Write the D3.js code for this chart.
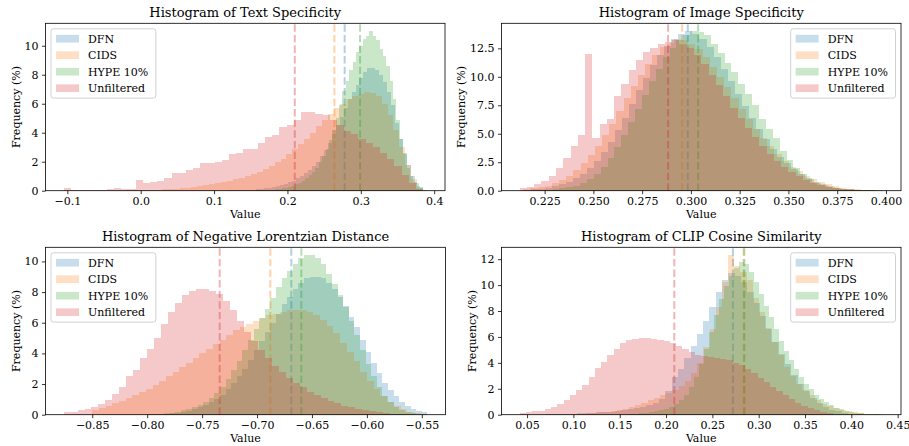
<!DOCTYPE html>
<html lang="en">
<head>
<meta charset="UTF-8">
<title>Histograms</title>
<style>
    body { margin: 0; background: #fff; }
    svg { display: block; font-family: "DejaVu Serif", serif; }
</style>
</head>
<body>
<svg width="909" height="446"></svg>
<script src="https://cdnjs.cloudflare.com/ajax/libs/d3/7.8.5/d3.min.js"></script>
<script>
var seriesNames = ["DFN", "CIDS", "HYPE 10%", "Unfiltered"];
var seriesColors = ["#1f77b4", "#ff7f0e", "#2ca02c", "#d62728"];

// text specificity (frequency % per bin, 50 bins each)
var textDFN = [0.02,0.02,0.03,0.04,0.05,0.06,0.08,0.1,0.13,0.16,
    0.2,0.25,0.3,0.38,0.47,0.58,0.7,0.85,1.0,1.2,
    1.45,1.7,2.0,2.4,2.8,3.3,3.9,4.5,5.1,5.7,
    6.3,6.8,7.3,7.8,8.2,8.5,8.5,8.3,8.0,7.5,
    6.8,5.9,4.7,3.6,2.6,1.8,1.0,0.5,0.25,0.08];
var textCIDS = [0.02,0.02,0.04,0.05,0.06,0.08,0.1,0.12,0.15,0.18,
    0.22,0.27,0.32,0.38,0.45,0.52,0.6,0.7,0.8,0.9,
    1.02,1.15,1.3,1.5,1.7,1.95,2.2,2.5,2.85,3.2,
    3.6,4.0,4.45,4.9,5.3,5.7,6.0,6.3,6.5,6.7,
    6.8,6.75,6.5,6.0,5.2,4.2,3.0,1.8,0.8,0.2];
var textHYPE = [0.02,0.03,0.05,0.06,0.08,0.1,0.13,0.17,0.22,0.28,
    0.35,0.45,0.55,0.7,0.85,1.05,1.3,1.6,2.0,2.4,
    2.9,3.5,4.2,5.0,5.9,6.9,7.6,8.3,8.9,9.6,
    10.0,10.5,10.7,11.0,10.7,10.4,9.8,9.3,8.6,7.6,
    6.3,4.9,3.6,2.5,1.6,1.0,0.6,0.35,0.18,0.06];
var textUnf = [0.18,0.05,0.06,0.07,0.05,0.08,0.1,0.18,0.15,0.12,
    0.75,0.5,0.6,0.65,0.85,1.2,1.2,1.4,1.55,1.9,
    1.9,2.0,2.1,2.5,2.6,2.9,2.85,3.3,3.7,3.85,
    4.4,4.5,4.9,5.4,5.45,5.3,5.25,4.9,4.5,4.1,
    3.9,3.55,3.3,3.0,2.6,2.2,1.7,1.1,0.5,0.15];
var textRanges = [[0.12, 0.39], [-0.02, 0.385], [0.16, 0.39], [-0.105, 0.385]];
var textMeans = [0.278, 0.264, 0.299, 0.210];
var textXTicks = [-0.1, 0, 0.1, 0.2, 0.3, 0.4];
var textYTicks = [0, 2, 4, 6, 8, 10];

// image specificity
var imgDFN = [0.12,0.18,0.26,0.38,0.55,0.8,1.1,1.5,2.0,2.6,
    3.4,4.3,5.3,6.4,7.6,8.8,9.9,11.0,11.9,12.7,
    13.3,13.8,14.0,13.8,13.3,12.6,11.7,10.7,9.6,8.5,
    7.4,6.4,5.4,4.5,3.7,3.0,2.4,1.9,1.45,1.1,
    0.8,0.56,0.38,0.25,0.16,0.1,0.06,0.03,0.02,0.01];
var imgCIDS = [0.15,0.2,0.3,0.45,0.65,0.9,1.3,1.8,2.4,3.1,
    3.9,4.9,5.9,7.0,8.1,9.2,10.2,11.1,11.9,12.6,
    13.0,13.3,13.2,12.9,12.4,11.7,10.9,10.0,9.1,8.1,
    7.2,6.3,5.4,4.6,3.9,3.2,2.6,2.1,1.7,1.3,
    1.0,0.75,0.55,0.4,0.28,0.19,0.12,0.07,0.04,0.02];
var imgHYPE = [0.05,0.08,0.12,0.2,0.3,0.45,0.7,1.0,1.5,2.1,
    2.9,3.8,4.9,6.0,7.2,8.4,9.6,10.7,11.7,12.5,
    13.2,13.7,14.0,13.95,13.7,12.9,12.1,11.2,10.4,9.4,
    8.5,7.5,6.3,5.4,4.6,3.5,2.7,2.0,1.45,1.0,
    0.7,0.5,0.35,0.25,0.17,0.12,0.08,0.05,0.03,0.02];
var imgUnf = [0.2,0.35,0.55,0.85,1.3,2.0,2.9,3.9,4.9,12.0,
    4.6,5.9,6.3,8.3,9.4,10.6,11.5,12.2,12.5,12.9,
    13.1,13.2,12.9,12.5,11.9,11.1,10.2,9.3,8.3,7.3,
    6.4,5.5,4.7,3.9,3.2,2.6,2.1,1.6,1.25,0.95,
    0.7,0.5,0.35,0.25,0.17,0.11,0.07,0.04,0.02,0.01];
var imgRanges = [[0.218, 0.398], [0.214, 0.398], [0.222, 0.3984], [0.2122, 0.3984]];
var imgMeans = [0.2984, 0.2955, 0.3037, 0.2883];
var imgXTicks = [0.225, 0.25, 0.275, 0.3, 0.325, 0.35, 0.375, 0.4];
var imgYTicks = [0, 2.5, 5, 7.5, 10, 12.5];

// negative lorentzian distance
var lorDFN = [0.03,0.04,0.05,0.07,0.1,0.14,0.19,0.26,0.35,0.47,
    0.62,0.8,1.0,1.3,1.65,2.05,2.5,3.0,3.6,4.2,
    4.8,5.4,6.0,6.6,7.2,7.7,8.2,8.6,8.9,9.0,
    9.0,8.9,8.6,8.2,7.7,7.1,6.4,5.7,4.9,4.1,
    3.4,2.7,2.1,1.6,1.2,0.85,0.6,0.4,0.27,0.15];
var lorCIDS = [0.3,0.45,0.6,0.75,0.9,1.1,1.3,1.5,1.7,1.95,
    2.2,2.5,2.8,3.1,3.4,3.7,4.0,4.3,4.6,4.9,
    5.2,5.5,5.7,5.9,6.1,6.3,6.5,6.6,6.7,6.8,
    6.8,6.8,6.7,6.5,6.2,5.8,5.3,4.7,4.1,3.5,
    2.8,2.2,1.7,1.2,0.85,0.55,0.35,0.2,0.1,0.04];
var lorHYPE = [0.03,0.05,0.07,0.1,0.14,0.2,0.28,0.38,0.5,0.65,
    0.85,1.1,1.4,1.8,2.3,2.9,3.5,4.2,4.9,5.6,
    6.3,6.9,7.6,8.3,8.9,9.4,9.8,10.2,10.4,10.4,
    10.2,9.8,9.2,8.5,7.8,7.0,6.1,5.2,4.2,3.3,
    2.5,1.8,1.2,0.8,0.5,0.32,0.2,0.12,0.07,0.04];
var lorUnf = [0.15,0.2,0.3,0.35,0.5,0.7,0.95,1.35,1.8,2.5,
    2.9,3.7,4.3,5.0,5.9,6.7,7.3,7.8,8.1,8.2,
    8.2,8.1,7.9,7.4,6.8,6.1,5.4,4.8,4.2,3.7,
    3.2,2.8,2.4,2.1,1.8,1.5,1.3,1.1,0.9,0.75,
    0.6,0.5,0.4,0.3,0.22,0.16,0.11,0.07,0.04,0.02];
var lorRanges = [[-0.80, -0.545], [-0.85, -0.545], [-0.80, -0.545], [-0.876, -0.56]];
var lorMeans = [-0.6688, -0.6879, -0.6597, -0.734];
var lorXTicks = [-0.85, -0.8, -0.75, -0.7, -0.65, -0.6, -0.55];
var lorYTicks = [0, 2, 4, 6, 8, 10];

// clip cosine similarity
var clipDFN = [0.04,0.05,0.06,0.07,0.08,0.1,0.12,0.14,0.17,0.2,
    0.24,0.29,0.35,0.42,0.5,0.6,0.72,0.9,1.2,1.8,
    2.9,3.5,4.4,5.3,6.2,7.2,8.3,9.5,10.4,10.9,
    10.7,10.2,9.5,8.6,7.6,6.6,5.6,4.7,3.9,3.1,
    2.4,1.8,1.3,0.9,0.6,0.4,0.25,0.14,0.07,0.04];
var clipCIDS = [0.05,0.07,0.1,0.13,0.17,0.22,0.28,0.36,0.45,0.57,
    0.72,0.9,1.1,1.3,1.5,1.7,1.9,2.2,2.6,3.2,
    4.0,5.2,6.6,8.3,10.2,12.3,11.5,11.0,10.4,9.0,
    7.9,6.7,5.6,4.6,3.7,3.0,2.4,1.9,1.5,1.15,
    0.85,0.65,0.48,0.35,0.26,0.18,0.12,0.08,0.05,0.03];
var clipHYPE = [0.05,0.07,0.1,0.14,0.19,0.26,0.35,0.47,0.62,0.82,
    1.1,1.5,2.1,2.9,3.9,5.1,6.4,7.7,8.9,9.9,
    10.7,11.3,11.8,11.6,11.0,10.2,9.3,8.4,7.5,6.6,
    5.7,4.9,4.2,3.5,2.9,2.4,1.95,1.55,1.2,0.95,
    0.72,0.55,0.42,0.3,0.22,0.15,0.1,0.07,0.04,0.02];
var clipUnf = [0.12,0.18,0.25,0.32,0.42,0.6,0.85,1.15,1.5,1.9,
    2.3,2.9,3.6,4.1,4.6,5.1,5.5,5.75,5.85,5.9,
    5.9,5.85,5.8,5.7,5.5,5.3,5.05,4.8,4.6,4.5,
    4.45,4.4,4.3,4.2,4.0,3.8,3.5,3.2,2.8,2.5,
    2.1,1.8,1.5,1.2,0.9,0.7,0.5,0.35,0.22,0.12];
var clipRanges = [[0.07, 0.41], [0.10, 0.434], [0.16, 0.43], [0.042, 0.38]];
var clipMeans = [0.2722, 0.2837, 0.2845, 0.2089];
var clipXTicks = [0.05, 0.1, 0.15, 0.2, 0.25, 0.3, 0.35, 0.4, 0.45];
var clipYTicks = [0, 2, 4, 6, 8, 10, 12];

var charts = [
    { title: "Histogram of Text Specificity", freqs: [textDFN, textCIDS, textHYPE, textUnf],
      ranges: textRanges, means: textMeans, xTicks: textXTicks, xFmt: ".1f", yTicks: textYTicks, yFmt: "d" },
    { title: "Histogram of Image Specificity", freqs: [imgDFN, imgCIDS, imgHYPE, imgUnf],
      ranges: imgRanges, means: imgMeans, xTicks: imgXTicks, xFmt: ".3f", yTicks: imgYTicks, yFmt: ".1f" },
    { title: "Histogram of Negative Lorentzian Distance", freqs: [lorDFN, lorCIDS, lorHYPE, lorUnf],
      ranges: lorRanges, means: lorMeans, xTicks: lorXTicks, xFmt: ".2f", yTicks: lorYTicks, yFmt: "d" },
    { title: "Histogram of CLIP Cosine Similarity", freqs: [clipDFN, clipCIDS, clipHYPE, clipUnf],
      ranges: clipRanges, means: clipMeans, xTicks: clipXTicks, xFmt: ".2f", yTicks: clipYTicks, yFmt: "d" }
];

var layout = [
    { left: 45.5, right: 445, top: 23.3, bottom: 190.7, ylab: 26, legend: "left" },
    { left: 501.5, right: 901, top: 23.3, bottom: 190.7, ylab: 36.5, legend: "right" },
    { left: 45.5, right: 445.5, top: 247.3, bottom: 414.7, ylab: 26, legend: "left" },
    { left: 501.5, right: 901, top: 247.3, bottom: 414.7, ylab: 26, legend: "right" }
];

var barAlpha = 0.25;
var fs = 11;

function binsOf(freq, range) {
    var w = (range[1] - range[0]) / freq.length;
    return freq.map(function (f, i) {
        return { x0: range[0] + i * w, x1: range[0] + (i + 1) * w, f: f };
    });
}

var svg = d3.select("svg");

charts.forEach(function (c, k) {
    var L = layout[k];
    var g = svg.append("g");

    var ends = [];
    c.ranges.forEach(function (r) { ends.push(r[0], r[1]); });
    var lo = d3.min(ends), hi = d3.max(ends), pad = (hi - lo) * 0.05;
    var x = d3.scaleLinear().domain([lo - pad, hi + pad]).range([L.left, L.right]);
    var ymax = d3.max(c.freqs, function (f) { return d3.max(f); });
    var y = d3.scaleLinear().domain([0, ymax * 1.05]).range([L.bottom, L.top]);

    c.freqs.forEach(function (freq, s) {
        g.append("g").selectAll("rect")
            .data(binsOf(freq, c.ranges[s]))
            .join("rect")
            .attr("x", d => x(d.x0))
            .attr("width", d => x(d.x1) - x(d.x0))
            .attr("y", d => y(d.f))
            .attr("height", d => y(0) - y(d.f))
            .attr("fill", seriesColors[s])
            .attr("fill-opacity", barAlpha)
            .attr("shape-rendering", "crispEdges");

        g.append("line")
            .attr("x1", x(c.means[s])).attr("x2", x(c.means[s]))
            .attr("y1", L.bottom).attr("y2", L.top)
            .attr("stroke", seriesColors[s])
            .attr("stroke-opacity", 0.35)
            .attr("stroke-width", 2)
            .attr("stroke-dasharray", "7.4,3.2");
    });

    // axes
    var xAxis = d3.axisBottom(x).tickValues(c.xTicks).tickFormat(d3.format(c.xFmt))
        .tickSize(3.5).tickPadding(3);
    var yAxis = d3.axisLeft(y).tickValues(c.yTicks).tickFormat(d3.format(c.yFmt))
        .tickSize(3.5).tickPadding(3.5);

    g.append("g").attr("transform", "translate(0," + L.bottom + ")").call(xAxis)
        .call(a => a.select(".domain").remove());
    g.append("g").attr("transform", "translate(" + L.left + ",0)").call(yAxis)
        .call(a => a.select(".domain").remove());
    g.selectAll(".tick line").attr("stroke", "#000").attr("stroke-width", 0.8);
    g.selectAll(".tick text").attr("fill", "#000")
        .style("font-family", "DejaVu Serif").style("font-size", fs + "px");

    g.append("rect")
        .attr("x", L.left).attr("y", L.top)
        .attr("width", L.right - L.left).attr("height", L.bottom - L.top)
        .attr("fill", "none").attr("stroke", "#000").attr("stroke-width", 0.8);

    g.append("text")
        .attr("x", (L.left + L.right) / 2).attr("y", L.top - 6.3)
        .attr("text-anchor", "middle").style("font-size", "13px")
        .text(c.title);
    g.append("text")
        .attr("x", (L.left + L.right) / 2).attr("y", L.bottom + 27.3)
        .attr("text-anchor", "middle").style("font-size", fs + "px")
        .text("Value");
    g.append("text")
        .attr("transform", "translate(" + (L.left - L.ylab) + "," + ((L.top + L.bottom) / 2) + ") rotate(-90)")
        .attr("text-anchor", "middle").style("font-size", fs + "px")
        .text("Frequency (%)");

    // legend
    var lg = g.append("g");
    var labels = lg.selectAll("text.lab").data(seriesNames).join("text")
        .attr("class", "lab").style("font-size", fs + "px").text(d => d);
    var tw = d3.max(labels.nodes(), n => n.getComputedTextLength());
    var bw = 5 + 23 + 9 + tw + 7.6;
    var bh = 4.4 * 2 + 4 * fs + 3 * 5.5;
    var bx = L.legend === "left" ? L.left + 5.5 : L.right - 5.5 - bw;
    var by = L.top + 5.5;
    lg.insert("rect", ":first-child")
        .attr("x", bx).attr("y", by).attr("width", bw).attr("height", bh)
        .attr("rx", 2.5)
        .attr("fill", "#fff").attr("fill-opacity", 0.8)
        .attr("stroke", "#cccccc").attr("stroke-width", 0.9);
    seriesNames.forEach(function (name, i) {
        var cy = by + 4.4 + fs / 2 + i * (fs + 5.5);
        lg.append("rect")
            .attr("x", bx + 5).attr("y", cy - 3.85)
            .attr("width", 23).attr("height", 7.7)
            .attr("fill", seriesColors[i]).attr("fill-opacity", barAlpha);
    });
    labels.attr("x", bx + 5 + 23 + 9)
        .attr("y", (d, i) => by + 4.4 + fs / 2 + i * (fs + 5.5) + 3.9);
});
</script>
</body>
</html>
